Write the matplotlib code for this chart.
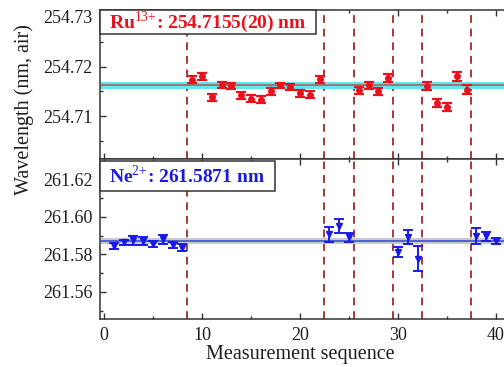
import numpy as np
import matplotlib
matplotlib.use("Agg")
import matplotlib.pyplot as plt
from matplotlib.ticker import MultipleLocator, FormatStrFormatter
from matplotlib.patches import Rectangle

plt.rcParams['font.family'] = ['Liberation Serif', 'DejaVu Serif']
plt.rcParams['mathtext.fontset'] = 'custom'
plt.rcParams['mathtext.rm'] = 'Liberation Serif'
plt.rcParams['mathtext.bf'] = 'Liberation Serif:bold'

# Ru13+ measurements
ru_x = [9, 10, 11, 12, 13, 14, 15, 16, 17, 18, 19, 20, 21, 22,
        26, 27, 28, 29, 33, 34, 35, 36, 37]
ru_y = [254.7174, 254.7181, 254.7138, 254.7163, 254.7161, 254.7142, 254.7135,
        254.7133, 254.7150, 254.7162, 254.7158, 254.7146, 254.7143, 254.7175,
        254.7152, 254.7162, 254.7150, 254.7177, 254.7161, 254.7126, 254.7118,
        254.7181, 254.7153]
ru_err = [0.0007, 0.0007, 0.0007, 0.0006, 0.0006, 0.0007, 0.0007, 0.0007, 0.0007,
          0.0006, 0.0006, 0.0007, 0.0007, 0.0007, 0.0007, 0.0007, 0.0007, 0.0008,
          0.0008, 0.0008, 0.0008, 0.0009, 0.0009]
ru_ref = 254.7162
ru_band = 0.0007

# Ne2+ measurements
ne_x = [1, 2, 3, 4, 5, 6, 7, 8, 23, 24, 25, 30, 31, 32, 38, 39, 40]
ne_y = [261.5843, 261.5864, 261.5877, 261.5873, 261.5855, 261.5880, 261.5850,
        261.5837, 261.5907, 261.5951, 261.5891, 261.5813, 261.5893, 261.5777,
        261.5899, 261.5896, 261.5871]
ne_err = [0.0016, 0.0015, 0.0024, 0.0022, 0.0016, 0.0022, 0.0016, 0.0018,
          0.0040, 0.0036, 0.0024, 0.0027, 0.0036, 0.0066, 0.0042, 0.0024, 0.0017]
ne_ref = 261.5871
ne_band = 0.0015

separators = [8.5, 22.5, 25.5, 29.5, 32.5, 37.5]
x_ticks = [0, 10, 20, 30, 40]

ru_label = r'Ru$^{13{+}}$: 254.7155(20) nm'
ne_label = r'Ne$^{2{+}}$: 261.5871 nm'

fig = plt.figure(figsize=(5.04, 3.67), dpi=100)
FW, FH = 504.0, 367.0
left_px, right_px = 100, 104 + 45 * 9.8
top1, mid, bot2 = 9.5, 159, 319
axw = right_px - left_px
ax1 = fig.add_axes([left_px / FW, 1 - mid / FH, axw / FW, (mid - top1) / FH])
ax2 = fig.add_axes([left_px / FW, 1 - bot2 / FH, axw / FW, (bot2 - mid) / FH])

red = '#e8121c'
blue = '#1a1ae6'
dash_c = '#a83838'
txt_c = '#1e1e1e'

for ax in (ax1, ax2):
    ax.set_xlim(-0.4, 45)
    for s in separators:
        ax.axvline(s, color=dash_c, ls=(0, (4, 3)), lw=1.4, zorder=1)
    ax.xaxis.set_major_locator(MultipleLocator(10))
    ax.xaxis.set_minor_locator(MultipleLocator(5))
    ax.tick_params(which='both', direction='in', top=True, right=False,
                   labelsize=13, colors='#333333', labelcolor=txt_c, pad=5.5)
    ax.tick_params(which='major', length=4, width=1)
    ax.tick_params(which='minor', length=2.5, width=1)
    for sp in ax.spines.values():
        sp.set_linewidth(1.1)
        sp.set_color('#333333')

# Top panel
ax1.axhspan(ru_ref - ru_band, ru_ref + ru_band, color='#5ee8f0', lw=0, zorder=2)
ax1.axhline(ru_ref, color='#a86060', lw=1.2, zorder=3)
ax1.errorbar(ru_x, ru_y, yerr=ru_err, fmt='o', color=red, ms=4,
             elinewidth=1.6, capsize=3.5, capthick=1.6, zorder=4)
ax1.set_ylim(254.7014, 254.7315)
ax1.yaxis.set_major_locator(MultipleLocator(0.01))
ax1.yaxis.set_minor_locator(MultipleLocator(0.005))
ax1.yaxis.set_major_formatter(FormatStrFormatter('%.2f'))
ax1.tick_params(axis='x', labelbottom=False)
h1 = mid - top1
bx_w1 = (316 - left_px) / axw
bx_b1 = (mid - 34) / h1
ax1.add_patch(Rectangle((0, bx_b1), bx_w1, 1 - bx_b1, transform=ax1.transAxes,
                        fc='white', ec='#333333', lw=1.1, zorder=5, clip_on=False))
ax1.text(bx_w1 / 2, (bx_b1 + 1) / 2, ru_label, transform=ax1.transAxes,
         ha='center', va='center', color=red, fontsize=14, fontweight='bold',
         zorder=6)

# Bottom panel
ax2.axhspan(ne_ref - ne_band, ne_ref + ne_band, color='#c8c8c8', lw=0, zorder=2)
ax2.axhline(ne_ref, color='#3a50d8', lw=1.2, zorder=3)
ax2.errorbar(ne_x, ne_y, yerr=ne_err, fmt='v', color=blue, ms=5,
             elinewidth=1.4, capsize=3.5, capthick=1.4, zorder=4)
ax2.set_ylim(261.5456, 261.6309)
ax2.yaxis.set_major_locator(MultipleLocator(0.02))
ax2.yaxis.set_minor_locator(MultipleLocator(0.01))
ax2.yaxis.set_major_formatter(FormatStrFormatter('%.2f'))
ax2.set_xticks(x_ticks)
h2 = bot2 - mid
bx_w2 = (275 - left_px) / axw
bx_b2 = (bot2 - 191) / h2
bx_t2 = (bot2 - 161) / h2
ax2.add_patch(Rectangle((0, bx_b2), bx_w2, bx_t2 - bx_b2, transform=ax2.transAxes,
                        fc='white', ec='#333333', lw=1.1, zorder=5, clip_on=False))
ax2.text(bx_w2 / 2, (bx_b2 + bx_t2) / 2, ne_label, transform=ax2.transAxes,
         ha='center', va='center', color=blue, fontsize=14, fontweight='bold',
         zorder=6)

fig.text(24 / FW, 1 - 110 / FH, 'Wavelength (nm, air)', rotation=90,
         ha='center', va='center', fontsize=14.5, color=txt_c)
fig.text(300 / FW, 1 - 355 / FH, 'Measurement sequence', ha='center',
         va='center', fontsize=14.5, color=txt_c)

fig.savefig('out.png', dpi=100)
